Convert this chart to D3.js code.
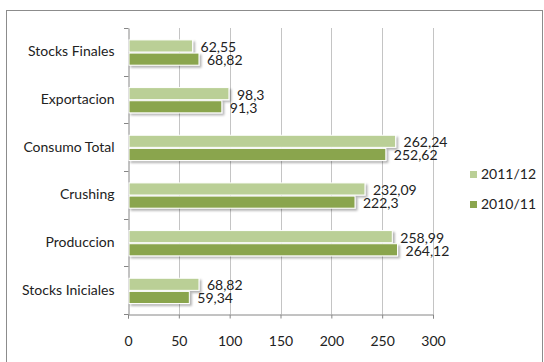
<!DOCTYPE html>
<html>
<head>
<meta charset="utf-8">
<script src="https://cdn.jsdelivr.net/npm/d3@7"></script>
<style>
  body { margin: 0; background: #fff; }
  text { font-family: Lato, "Open Sans", sans-serif; fill: #222; }
</style>
</head>
<body>
<div id="chart"></div>
<script>
// data
var categories = ["Stocks Finales", "Exportacion", "Consumo Total", "Crushing", "Produccion", "Stocks Iniciales"];
var series2011 = [62.55, 98.3, 262.24, 232.09, 258.99, 68.82];
var series2010 = [68.82, 91.3, 252.62, 222.3, 264.12, 59.34];
var seriesNames = ["2011/12", "2010/11"];
var xTicks = [0, 50, 100, 150, 200, 250, 300];
var colors = ["#bacf96", "#8aa54d"];

var width = 544, height = 362;
var margin = { top: 28, left: 128, right: 111, bottom: 48 };
var plotW = width - margin.left - margin.right;
var plotH = height - margin.top - margin.bottom;

var svg = d3.select("#chart").append("svg")
  .attr("width", width)
  .attr("height", height);

// drop shadow for bars
var defs = svg.append("defs");
var f = defs.append("filter").attr("id", "shadow")
  .attr("x", "-10%").attr("y", "-30%").attr("width", "130%").attr("height", "180%");
f.append("feDropShadow").attr("dx", 2).attr("dy", 2).attr("stdDeviation", 1.2)
  .attr("flood-color", "#000").attr("flood-opacity", 0.3);

// outer frame
svg.append("rect")
  .attr("x", 6.5).attr("y", 10.5)
  .attr("width", 536).attr("height", 360)
  .attr("fill", "none").attr("stroke", "#8c8c8c").attr("stroke-width", 1);

var g = svg.append("g")
  .attr("transform", "translate(" + margin.left + "," + margin.top + ")");

var x = d3.scaleLinear().domain([0, 300]).range([0, plotW]);
var y = d3.scaleBand().domain(categories).range([0, plotH]);
var inner = d3.scaleBand().domain(seriesNames)
  .range([y.bandwidth() * 0.25, y.bandwidth() * 0.78]).paddingInner(0.08);

// gridlines
g.selectAll(".grid")
  .data(xTicks.slice(1))
  .enter().append("line")
  .attr("class", "grid")
  .attr("x1", d => Math.round(x(d)) + 0.5)
  .attr("x2", d => Math.round(x(d)) + 0.5)
  .attr("y1", 0).attr("y2", plotH)
  .attr("stroke", "#c4c4c4");

// bottom axis
var xAxis = g.append("g")
  .attr("transform", "translate(0," + (plotH + 0.5) + ")")
  .call(d3.axisBottom(x).tickValues(xTicks).tickSize(4).tickPadding(18).tickFormat(d3.format("d")));
xAxis.select(".domain").attr("stroke", "#868686");
xAxis.selectAll(".tick line").attr("stroke", "#868686");
xAxis.selectAll("text").attr("font-size", 14).attr("fill", "#222")
  .style("font-family", "Lato, sans-serif");

// left axis
var yAxis = g.append("g")
  .attr("transform", "translate(0.5,0)")
  .call(d3.axisLeft(y).tickSize(0).tickPadding(14));
yAxis.select(".domain").attr("stroke", "#868686");
yAxis.selectAll("text").attr("font-size", 14).attr("fill", "#222")
  .style("font-family", "Lato, sans-serif");
// category boundary ticks
g.selectAll(".cat-tick")
  .data(categories.map(c => y(c)).concat([plotH]))
  .enter().append("line")
  .attr("x1", -4).attr("x2", 0.5)
  .attr("y1", d => Math.round(d) + 0.5).attr("y2", d => Math.round(d) + 0.5)
  .attr("stroke", "#868686");

var rows = categories.map((c, i) => ({ cat: c, vals: [series2011[i], series2010[i]] }));

var groups = g.selectAll(".row")
  .data(rows)
  .enter().append("g")
  .attr("class", "row")
  .attr("transform", d => "translate(0," + y(d.cat) + ")");

groups.selectAll("rect")
  .data(d => d.vals.map((v, j) => ({ name: seriesNames[j], v: v, j: j })))
  .enter().append("rect")
  .attr("x", 1)
  .attr("y", d => inner(d.name))
  .attr("width", d => x(d.v))
  .attr("height", inner.bandwidth())
  .attr("fill", d => colors[d.j])
  .attr("stroke", "#fff")
  .attr("stroke-width", 1)
  .attr("filter", "url(#shadow)");

groups.selectAll(".val")
  .data(d => d.vals.map((v, j) => ({ name: seriesNames[j], v: v, j: j })))
  .enter().append("text")
  .attr("class", "val")
  .attr("x", d => x(d.v) + 9)
  .attr("y", d => inner(d.name) + inner.bandwidth() / 2 + 6)
  .attr("font-size", 14)
  .text(d => String(d.v).replace(".", ","));

// legend
var legend = svg.selectAll(".legend")
  .data(seriesNames)
  .enter().append("g")
  .attr("class", "legend")
  .attr("transform", (d, i) => "translate(470," + (171 + i * 30) + ")");
legend.append("rect")
  .attr("width", 7).attr("height", 7)
  .attr("fill", (d, i) => colors[i]);
legend.append("text")
  .attr("x", 11).attr("y", 8)
  .attr("font-size", 14)
  .text(d => d);
</script>
</body>
</html>
